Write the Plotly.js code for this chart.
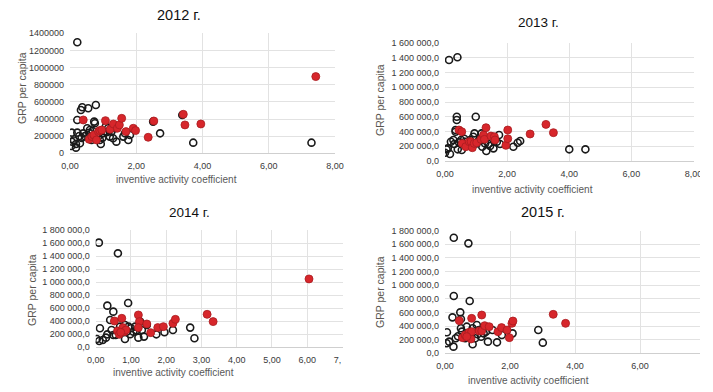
<!DOCTYPE html>
<html><head><meta charset="utf-8">
<script src="https://cdn.plot.ly/plotly-3.0.1.min.js"></script>
<style>html,body{margin:0;padding:0;background:#fff}#chart{width:713px;height:392px}</style>
</head><body><div id="chart"></div><script>
// ---- 2012 ----
var x2012Other = [0.22,0.33,0.37,0.55,0.78,0.22,0.05,0.05,0.04,0.18,0.18,0.30,0.28,0.22,0.40,0.52,0.60,0.75,0.73,0.65,0.90,0.93,1.00,1.08,1.15,1.20,1.25,1.30,1.40,1.36,1.61,1.66,1.76,1.81,2.51,2.72,3.39,3.72,7.29,0.80,0.12,0.35,0.45,0.85,0.98,1.12,0.68,0.58];
var y2012Other = [1296000,506000,537000,525000,564000,389000,241000,136000,86000,109000,66000,117000,202000,241000,233000,292000,272000,350000,370000,156000,156000,109000,233000,311000,292000,195000,253000,175000,136000,292000,195000,233000,156000,214000,370000,233000,447000,124000,124000,214000,150000,180000,200000,195000,180000,250000,260000,240000];
var x2012Red = [0.40,0.58,0.66,0.72,0.80,0.86,0.90,0.96,1.07,1.21,1.31,1.43,1.49,1.56,1.69,1.91,1.98,2.36,2.53,3.42,3.47,3.95,7.42];
var y2012Red = [389000,163000,195000,214000,156000,253000,265000,272000,381000,280000,342000,292000,331000,408000,253000,292000,265000,187000,377000,455000,331000,342000,895000];
// ---- 2013 ----
var x2013Other = [0.13,0.40,0.38,0.38,0.99,0.34,0.34,0.00,0.05,0.16,0.09,0.19,0.27,0.30,0.41,0.54,0.52,0.65,0.73,0.81,0.91,0.95,1.02,1.10,1.20,1.29,1.33,1.40,1.45,1.56,1.67,1.74,1.77,2.20,2.34,2.42,4.00,4.52,1.18,0.62,0.85,0.45];
var y2013Other = [1373000,1409000,600000,555000,600000,418000,395000,109000,155000,91000,168000,259000,282000,227000,155000,145000,282000,259000,214000,282000,327000,373000,236000,282000,191000,236000,132000,227000,200000,168000,259000,350000,227000,191000,245000,268000,155000,155000,373000,300000,230000,250000];
var x2013Red = [0.45,0.54,0.56,0.67,0.78,0.84,0.88,0.94,1.02,1.16,1.24,1.27,1.32,1.48,1.59,1.61,1.96,2.02,2.02,2.74,3.25,3.49];
var y2013Red = [418000,395000,236000,191000,259000,259000,177000,236000,245000,291000,350000,291000,450000,336000,327000,282000,209000,418000,300000,364000,495000,382000];
// ---- 2014 ----
var x2014Other = [0.09,0.63,0.92,0.33,0.50,0.41,0.12,0.03,0.10,0.20,0.29,0.33,0.45,0.50,0.64,0.69,0.83,0.88,0.93,1.00,1.07,1.12,1.21,1.31,1.37,1.45,1.72,1.95,2.19,2.68,2.80,0.83,1.26,0.57,0.98,1.16];
var y2014Other = [1606000,1442000,680000,639000,547000,419000,292000,128000,97000,113000,148000,199000,266000,189000,240000,317000,128000,240000,317000,292000,240000,317000,148000,266000,164000,343000,199000,230000,266000,302000,138000,343000,394000,190000,200000,260000];
var x2014Red = [0.53,0.74,0.62,0.67,0.77,0.81,0.86,0.71,1.21,1.24,1.21,1.45,1.56,1.76,1.92,2.19,2.26,3.16,3.33,6.05];
var y2014Red = [404000,445000,251000,199000,302000,240000,266000,230000,496000,394000,302000,358000,225000,302000,317000,368000,429000,506000,394000,1049000];
// ---- 2015 ----
var x2015Other = [0.27,0.72,0.27,0.76,0.47,0.23,0.49,0.06,0.05,0.13,0.26,0.33,0.49,0.52,0.67,0.77,0.85,0.85,0.98,1.05,1.11,1.19,1.26,1.32,1.46,1.60,1.75,2.08,2.87,3.01,0.62,0.93,0.40,1.00];
var y2015Other = [1697000,1614000,841000,768000,601000,528000,504000,308000,147000,171000,98000,220000,367000,318000,391000,293000,132000,367000,416000,342000,244000,293000,318000,171000,342000,161000,269000,293000,342000,156000,220000,220000,250000,280000];
var x2015Red = [0.44,0.82,1.13,0.54,0.62,0.74,0.80,0.82,1.05,1.13,1.22,1.36,1.63,1.74,1.91,1.98,2.06,2.09,3.33,3.71,0.67];
var y2015Red = [479000,513000,562000,230000,269000,308000,210000,318000,328000,328000,406000,391000,318000,377000,342000,230000,440000,474000,572000,440000,244000];

var years = ['2012 г.','2013 г.','2014 г.','2015 г.'];
var xTitle = 'inventive activity coefficient';
var yTitle = 'GRP per capita';

var blackMarker = {symbol:'circle-open', size:7, color:'#1a1a1a', line:{width:1.6}};
var redMarker = {symbol:'circle', size:8, color:'#d7262b', line:{width:0.8, color:'#a81c1f'}};

function pair(xo, yo, xr, yr, n) {
  var xa = n === 1 ? 'x' : 'x' + n, ya = n === 1 ? 'y' : 'y' + n;
  return [
    {type:'scatter', mode:'markers', x:xo, y:yo, xaxis:xa, yaxis:ya, marker:blackMarker, hoverinfo:'skip'},
    {type:'scatter', mode:'markers', x:xr, y:yr, xaxis:xa, yaxis:ya, marker:redMarker, hoverinfo:'skip'}
  ];
}
var data = [].concat(
  pair(x2012Other, y2012Other, x2012Red, y2012Red, 1),
  pair(x2013Other, y2013Other, x2013Red, y2013Red, 2),
  pair(x2014Other, y2014Other, x2014Red, y2014Red, 3),
  pair(x2015Other, y2015Other, x2015Red, y2015Red, 4)
);

var W = 713, H = 392;
var tickFont = {family:'Liberation Sans, Arial, sans-serif', size:9, color:'#3a3a3a'};
function xax(l, r, range, dtick, anchor) {
  return {domain:[l/W, r/W], range:range, dtick:dtick, tick0:0, anchor:anchor, tickformat:'.2f',
    showgrid:true, gridcolor:'#e2e2e2', gridwidth:1, zeroline:false, showline:true, linecolor:'#cfcfcf',
    ticks:'', tickfont:tickFont, fixedrange:true, ticklabelstandoff:4};
}
function yax(b, t, range, fmt, anchor) {
  return {domain:[1 - b/H, 1 - t/H], range:range, dtick:200000, tick0:0, anchor:anchor, tickformat:fmt,
    showgrid:true, gridcolor:'#e2e2e2', gridwidth:1, zeroline:false, showline:false,
    ticks:'', tickfont:tickFont, fixedrange:true, ticklabelstandoff:5};
}

var titleFont = {family:'Liberation Sans, Arial, sans-serif', size:14.5, color:'#111'};
var axFont = {family:'Liberation Sans, Arial, sans-serif', size:10, color:'#595959'};
var yTitleFont = {family:'Liberation Sans, Arial, sans-serif', size:10.5, color:'#5a5650'};
function ann(text, px, py, font, rot) {
  var a = {text:text, x:px/W, y:1 - py/H, xref:'paper', yref:'paper', showarrow:false,
    xanchor:'center', yanchor:'middle', font:font};
  if (rot) a.textangle = rot;
  return a;
}
var annotations = [
  ann(years[0], 179, 15, titleFont),
  ann(years[1], 538, 23, Object.assign({}, titleFont, {size:13.5})),
  ann(years[2], 189, 212, Object.assign({}, titleFont, {size:13.5})),
  ann(years[3], 543, 212, titleFont),
  ann(yTitle, 22, 88, yTitleFont, -90),
  ann(yTitle, 380, 100, yTitleFont, -90),
  ann(yTitle, 32, 290, yTitleFont, -90),
  ann(yTitle, 380, 292, yTitleFont, -90),
  ann(xTitle, 176, 180, axFont),
  ann(xTitle, 532, 189, axFont),
  ann(xTitle, 173, 372, axFont),
  ann(xTitle, 528, 380, axFont)
];

// white masks reproducing the cropped edges of the original image
function mask(x0, y0, x1, y1) {
  return {type:'rect', xref:'paper', yref:'paper', x0:x0/W, x1:x1/W, y0:1 - y1/H, y1:1 - y0/H,
    fillcolor:'#fff', line:{width:0}, layer:'above'};
}
var shapes = [mask(341, 350, 356, 368), mask(700, 150, 713, 180), mask(700, 220, 713, 375)];

var layout = {
  width:W, height:H, margin:{l:0, r:0, t:0, b:0}, paper_bgcolor:'#fff', plot_bgcolor:'#fff',
  showlegend:false, separators:', ',
  xaxis: xax(70, 335, [0, 8], 2, 'y'),
  yaxis: yax(153.3, 33.3, [0, 1400000], 'd', 'x'),
  xaxis2: xax(445, 693.5, [0, 8], 2, 'y2'),
  yaxis2: yax(160.7, 43.3, [0, 1600000], ',.1f', 'x2'),
  xaxis3: xax(95.7, 342.5, [0, 7], 1, 'y3'),
  yaxis3: yax(347.3, 230, [0, 1800000], ',.1f', 'x3'),
  xaxis4: xax(445, 705, [0, 8], 2, 'y4'),
  yaxis4: yax(353.3, 230.7, [0, 1800000], ',.1f', 'x4'),
  annotations: annotations,
  shapes: shapes
};
Plotly.newPlot('chart', data, layout, {staticPlot:true, displayModeBar:false});
</script></body></html>
